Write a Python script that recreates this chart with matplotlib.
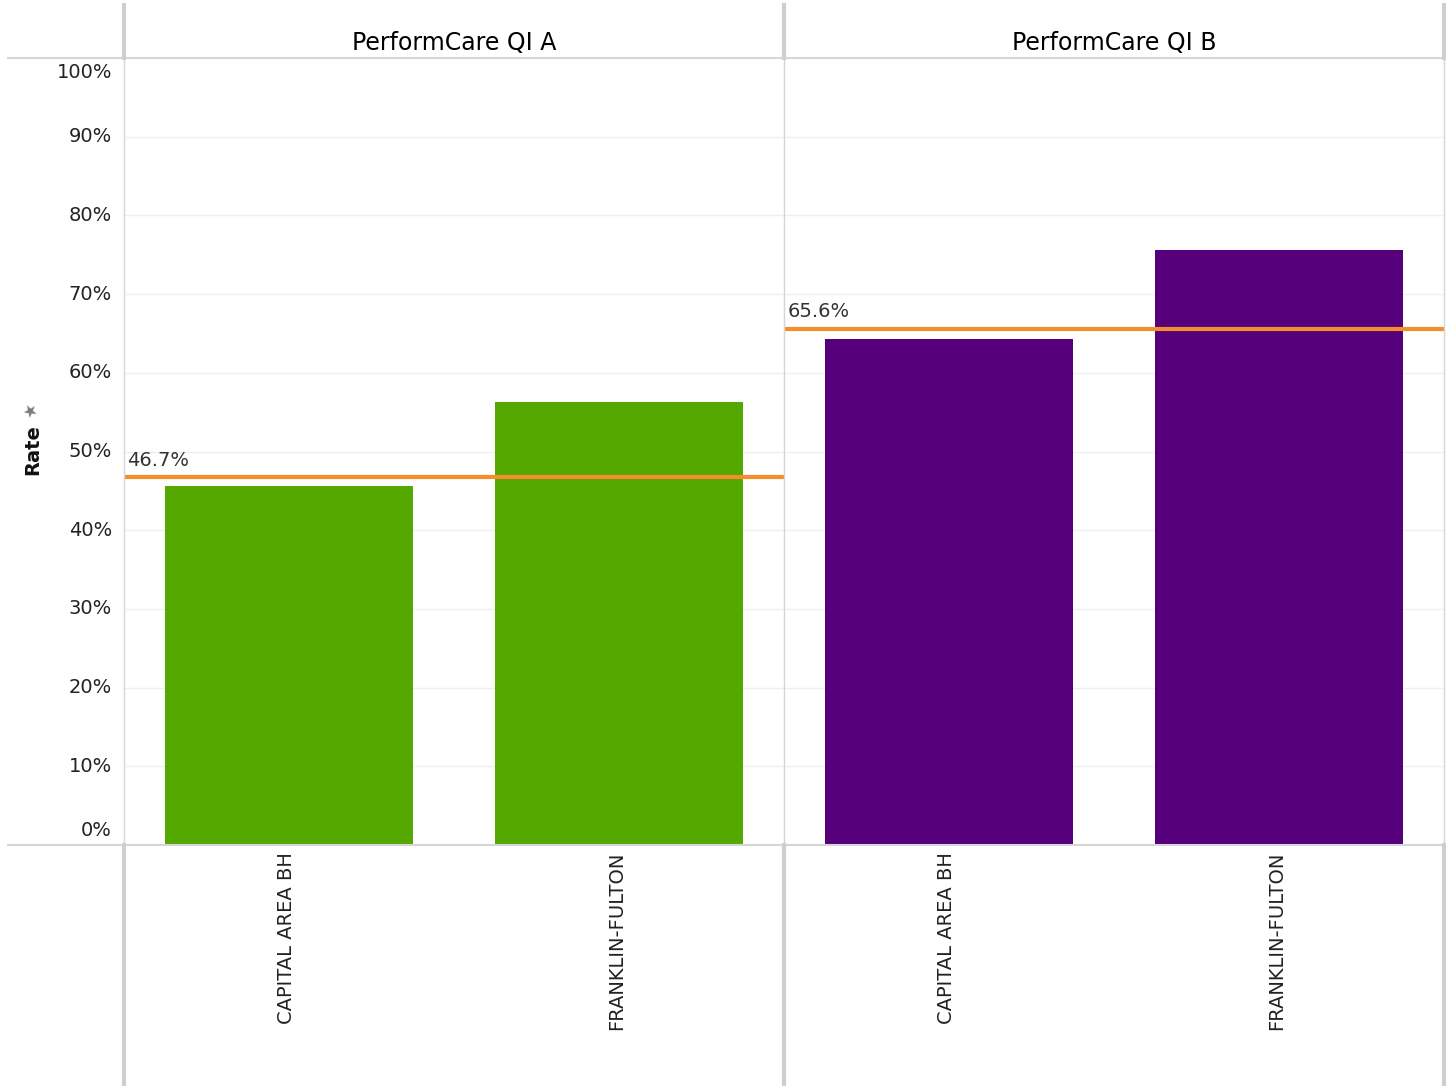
import matplotlib.pyplot as plt
from matplotlib.lines import Line2D

# values
panels = ['PerformCare QI A', 'PerformCare QI B']
regions = ['CAPITAL AREA BH', 'FRANKLIN-FULTON']
rates_a = [0.456, 0.563]
rates_b = [0.643, 0.756]
ref_lines = [0.467, 0.656]
bar_colors = ['#55a800', '#56007b']
y_ticks = [0, .1, .2, .3, .4, .5, .6, .7, .8, .9, 1.0]

W, H = 1450, 1086
plt.rcParams['font.family'] = ['DejaVu Sans']
fig = plt.figure(figsize=(W / 100, H / 100), dpi=100)


def fx(px):
    return px / W


def fy(py):
    return 1 - py / H


# panel geometry in pixels
left, right, top, bottom = 124, 1444, 58, 845
pw = (right - left) / 2

axes = []
for i, (title, vals) in enumerate(zip(panels, [rates_a, rates_b])):
    x0 = left + i * pw
    ax = fig.add_axes([fx(x0), fy(bottom), pw / W, (bottom - top) / H])
    ax.set_xlim(-0.5, 1.5)
    ax.set_ylim(0, 1.0)
    for s in ax.spines.values():
        s.set_visible(False)
    ax.set_xticks([])
    ax.set_yticks([])
    for t in y_ticks[1:-1]:
        ax.axhline(t, color='#efefef', lw=1, zorder=0)
    ax.bar(range(len(regions)), vals, width=0.75, color=bar_colors[i], zorder=2)
    ax.axhline(ref_lines[i], color='#f28e2b', lw=3, zorder=3)
    ax.text(-0.49, ref_lines[i] + 0.01, f'{ref_lines[i] * 100:.1f}%',
            fontsize=14, color='#333333', ha='left', va='bottom')
    # column header
    fig.text(fx(x0 + pw / 2), fy(43), title, fontsize=17, ha='center',
             va='center', color='#000000')
    # rotated category labels
    for j, name in enumerate(regions):
        xc = x0 + pw * (j + 0.5) / 2 - 2
        fig.text(fx(xc), fy(852), name, rotation=90, fontsize=14,
                 ha='center', va='top', color='#222222')
    axes.append(ax)

# y tick labels on the left of the first panel
for t in y_ticks:
    py = bottom - t * (bottom - top)
    if t == 0:
        py = 831
    elif t == 1.0:
        py = 73
    fig.text(fx(112), fy(py), f'{int(round(t * 100))}%', fontsize=14,
             ha='right', va='center', color='#222222')

fig.text(fx(33), fy(450), 'Rate', rotation=90, fontsize=14, fontweight='bold',
         ha='center', va='center', color='#111111')
fig.text(fx(31), fy(411), '\u2605', fontsize=12, color='#7a7a7a', rotation=30,
         ha='center', va='center')

# frame lines
line_kw = dict(transform=fig.transFigure, color='#d6d6d6')
fig.add_artist(Line2D([fx(8), fx(right)], [fy(top), fy(top)], lw=1.5, **line_kw))
fig.add_artist(Line2D([fx(8), fx(right)], [fy(bottom), fy(bottom)], lw=1.5, **line_kw))
for xv in [left, left + pw, right]:
    fig.add_artist(Line2D([fx(xv), fx(xv)], [fy(top), fy(bottom)], lw=1, **line_kw))
    fig.add_artist(Line2D([fx(xv), fx(xv)], [fy(5), fy(top)], lw=3,
                          transform=fig.transFigure, color='#cfcfcf'))
    fig.add_artist(Line2D([fx(xv), fx(xv)], [fy(bottom), fy(H)], lw=3,
                          transform=fig.transFigure, color='#cfcfcf'))

fig.savefig('out.png', dpi=100)
